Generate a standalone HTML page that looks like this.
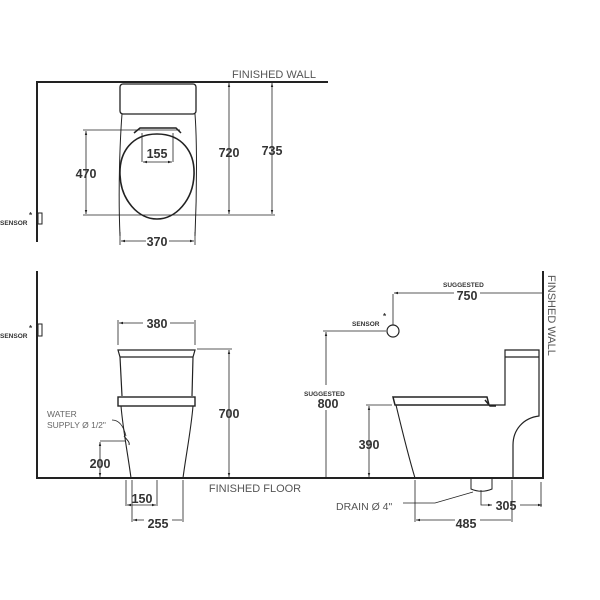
<!DOCTYPE html>
<html><head><style>body{margin:0;background:#fff}svg{display:block}</style></head><body>
<svg width="600" height="600" viewBox="0 0 600 600" xmlns="http://www.w3.org/2000/svg" font-family="Liberation Sans, sans-serif">
<defs><marker id="a" viewBox="0 0 10 10" refX="10" refY="5" markerWidth="5" markerHeight="5" orient="auto-start-reverse"><path d="M0,2L10,5L0,8z" fill="#222"/></marker></defs>
<g stroke="#222" fill="none">
<!-- top view -->
<path d="M37,242V82H328" stroke-width="2"/>
<rect x="38" y="213" width="4" height="11" stroke-width="1"/>
<rect x="120" y="84" width="76" height="30" rx="3" stroke-width="1.3"/>
<path d="M122,114 C120,140 118,190 120,236 M195,114 C197,140 197,190 195,236" stroke-width="1"/>
<path d="M157,134 C182,134 195,152 194,175 C193,200 176,219 157,219 C138,219 121,200 120,175 C119,152 132,134 157,134Z" stroke-width="1.6"/>
<path d="M134,133L140,128H176L181,133" stroke-width="1.5"/>
<g stroke-width="0.8">
<path d="M142,133V162M173,133V162"/>
<path d="M143,162H172" marker-start="url(#a)" marker-end="url(#a)"/>
<path d="M83,130H180M83,215H275"/>
<path d="M86,131V214" marker-start="url(#a)" marker-end="url(#a)"/>
<path d="M229,83V214" marker-start="url(#a)" marker-end="url(#a)"/>
<path d="M272,83V214" marker-start="url(#a)" marker-end="url(#a)"/>
<path d="M120,232V245M195,232V245"/>
<path d="M121,241H146" marker-start="url(#a)"/>
<path d="M194,241H169" marker-start="url(#a)"/>
</g>
<!-- bottom floor & walls -->
<path d="M37,271V478H543V271" stroke-width="2"/>
<rect x="38" y="324" width="4" height="12" stroke-width="1"/>
<!-- front view toilet -->
<path d="M118,350H195L193,357H120Z M120,357L122,396 M193,357L192,396" stroke-width="1.2"/>
<rect x="118" y="397" width="77" height="9" stroke-width="1.4"/>
<path d="M121,406 C123,430 128,455 131,478 M193,406 C191,430 186,455 183,478" stroke-width="1.1"/>
<path d="M124,436 C127,440 130,442 129,445" stroke-width="1"/>
<g stroke-width="0.8">
<path d="M118,320V345M195,320V345"/>
<path d="M119,323H143M194,323H170" marker-start="url(#a)"/>
<path d="M197,349H232"/>
<path d="M229,350V477" marker-start="url(#a)" marker-end="url(#a)"/>
<path d="M100,441H125"/>
<path d="M100,442V477" marker-start="url(#a)" marker-end="url(#a)"/>
<path d="M112,420C120,420 124,428 126,436"/>
<path d="M126,480V506M157,480V506"/>
<path d="M127,505H156" marker-start="url(#a)" marker-end="url(#a)"/>
<path d="M132,480V522M183,480V522"/>
<path d="M133,520H144M182,520H172" marker-start="url(#a)"/>
<!-- side view dims -->
<path d="M393,294V325"/>
<path d="M394,293H454M542,293H480" marker-start="url(#a)"/>
<path d="M323,331H386"/>
<path d="M326,332V385M326,410V477" marker-start="url(#a)"/>
<path d="M366,405H392"/>
<path d="M369,406V477" marker-start="url(#a)" marker-end="url(#a)"/>
<path d="M415,480V522M512,480V522M541,482V507"/>
<path d="M416,520H455M511,520H480" marker-start="url(#a)"/>
<path d="M481,490V505H492" marker-end="url(#a)"/>
<path d="M542,505H520" marker-start="url(#a)"/>
<path d="M403,503H435L473,492"/>
</g>
<circle cx="393" cy="331" r="6" stroke-width="1.2"/>
<!-- side view toilet -->
<path d="M505,357V350H539V357Z M505,357V405H490 M539,357V416 C523,418 513,430 513,445V478" stroke-width="1.2"/>
<path d="M393,397H487L489,405H395Z" stroke-width="1.5"/>
<path d="M485,400L490,406H496" stroke-width="1.5"/>
<path d="M396,405 C402,430 408,455 415,478" stroke-width="1.1"/>
<path d="M471,478V489C478,492 485,492 492,489V478" stroke-width="1"/>
</g>
<g fill="#444" font-size="11" text-anchor="middle">
<text x="274" y="78" fill="#555">FINISHED WALL</text>
<text x="255" y="492" fill="#555">FINISHED FLOOR</text>
</g>
<g fill="#333" font-size="12.5" text-anchor="middle" font-weight="bold">
<text x="157" y="158">155</text>
<text x="86" y="178">470</text>
<text x="229" y="157">720</text>
<text x="272" y="155">735</text>
<text x="157" y="246">370</text>
<text x="157" y="328">380</text>
<text x="229" y="418">700</text>
<text x="100" y="468">200</text>
<text x="142" y="503">150</text>
<text x="158" y="528">255</text>
<text x="467" y="300">750</text>
<text x="328" y="408">800</text>
<text x="369" y="449">390</text>
<text x="506" y="510">305</text>
<text x="466" y="528">485</text>
</g>
<g fill="#333" font-size="6.5" font-weight="bold">
<text x="0" y="225">SENSOR</text><text x="29" y="218" font-size="8">*</text>
<text x="0" y="338">SENSOR</text><text x="29" y="331" font-size="8">*</text>
<text x="352" y="326">SENSOR</text><text x="383" y="319" font-size="8">*</text>
<text x="443" y="287">SUGGESTED</text>
<text x="304" y="396">SUGGESTED</text>
</g>
<g fill="#666" font-size="8.5">
<text x="47" y="417">WATER</text>
<text x="47" y="428">SUPPLY Ø 1/2"</text>
</g>
<text x="336" y="510" font-size="10.5" fill="#555">DRAIN Ø 4"</text>
<text x="0" y="0" font-size="11" fill="#555" transform="translate(548,275) rotate(90)">FINSHED WALL</text>
</svg>
</body></html>
